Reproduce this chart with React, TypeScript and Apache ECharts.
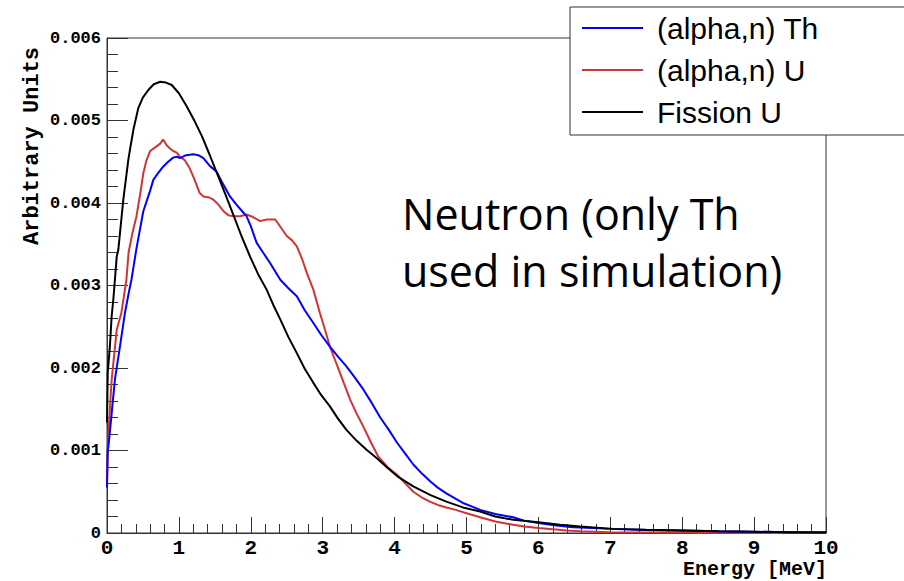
import React, { useEffect, useRef } from "react";
import * as echarts from "echarts";

// Energy [MeV] and value in units of 1e-3 (Arbitrary Units)
const thData: [number, number][] = [
  [0, 0.55], [0.01, 1.0], [0.02, 1.05], [0.065, 1.45], [0.11, 1.86], [0.18, 2.26], [0.25, 2.67],
  [0.3, 2.9], [0.34, 3.07], [0.41, 3.45], [0.505, 3.9], [0.6, 4.15], [0.644, 4.28], [0.7, 4.35],
  [0.78, 4.44], [0.85, 4.5], [0.92, 4.55], [0.97, 4.56], [1.015, 4.545], [1.1, 4.58], [1.2, 4.59],
  [1.27, 4.58], [1.34, 4.545], [1.43, 4.45], [1.525, 4.38], [1.62, 4.22], [1.71, 4.08], [1.8, 3.98],
  [1.88, 3.9], [1.94, 3.84], [2.0, 3.72], [2.08, 3.52], [2.17, 3.4], [2.27, 3.27], [2.41, 3.07],
  [2.52, 2.97], [2.64, 2.87], [2.75, 2.7], [2.87, 2.545], [2.98, 2.4], [3.1, 2.26], [3.21, 2.14],
  [3.33, 2.02], [3.45, 1.88], [3.565, 1.74], [3.68, 1.58], [3.8, 1.4], [3.92, 1.25], [4.03, 1.1],
  [4.15, 0.96], [4.26, 0.83], [4.38, 0.72], [4.49, 0.63], [4.6, 0.55], [4.72, 0.48], [4.84, 0.42],
  [4.96, 0.36], [5.08, 0.32], [5.19, 0.28], [5.4, 0.23], [5.65, 0.19], [5.8, 0.15], [6.0, 0.12],
  [6.25, 0.09], [6.48, 0.07], [6.75, 0.06], [7.0, 0.05], [7.5, 0.035], [8.0, 0.03], [8.5, 0.02],
  [9.0, 0.015], [9.5, 0.01], [10.0, 0.01],
];

const uData: [number, number][] = [
  [0, 0.65], [0.01, 1.0], [0.02, 1.21], [0.065, 1.86], [0.135, 2.46], [0.2, 2.67], [0.27, 3.07],
  [0.3, 3.4], [0.35, 3.62], [0.41, 3.84], [0.46, 4.1], [0.505, 4.36], [0.55, 4.52], [0.6, 4.63],
  [0.68, 4.68], [0.74, 4.72], [0.78, 4.77], [0.83, 4.7], [0.876, 4.66], [0.92, 4.63], [0.97, 4.61],
  [1.015, 4.56], [1.08, 4.52], [1.15, 4.42], [1.2, 4.32], [1.29, 4.12], [1.34, 4.08], [1.41, 4.07],
  [1.48, 4.04], [1.55, 3.98], [1.62, 3.9], [1.69, 3.85], [1.76, 3.84], [1.85, 3.84], [1.94, 3.86],
  [2.03, 3.83], [2.13, 3.78], [2.22, 3.8], [2.34, 3.8], [2.42, 3.7], [2.5, 3.6], [2.57, 3.55],
  [2.64, 3.475], [2.71, 3.33], [2.78, 3.15], [2.87, 2.95], [2.96, 2.67], [3.03, 2.47], [3.1, 2.26],
  [3.17, 2.1], [3.24, 1.94], [3.31, 1.78], [3.38, 1.62], [3.47, 1.45], [3.565, 1.29], [3.67, 1.1],
  [3.77, 0.93], [3.9, 0.8], [4.03, 0.71], [4.15, 0.6], [4.26, 0.5], [4.38, 0.43], [4.49, 0.38],
  [4.6, 0.34], [4.72, 0.31], [4.85, 0.28], [5.0, 0.24], [5.19, 0.19], [5.4, 0.14], [5.65, 0.1],
  [5.8, 0.08], [6.0, 0.06], [6.2, 0.045], [6.39, 0.03], [6.58, 0.02], [7.0, 0.01], [8.0, 0.005],
  [9.0, 0.0], [10.0, 0.0],
];

const fissionData: [number, number][] = [
  [0, 1.34], [0.01, 1.94], [0.04, 2.26], [0.065, 2.63], [0.088, 2.83], [0.11, 3.07], [0.135, 3.35],
  [0.157, 3.43], [0.227, 4.04], [0.296, 4.52], [0.32, 4.65], [0.37, 4.9], [0.435, 5.15], [0.5, 5.28],
  [0.575, 5.37], [0.65, 5.44], [0.74, 5.47], [0.82, 5.46], [0.9, 5.43], [1.0, 5.33], [1.11, 5.17],
  [1.22, 4.99], [1.32, 4.81], [1.42, 4.6], [1.525, 4.37], [1.64, 4.12], [1.76, 3.85], [1.87, 3.6],
  [1.99, 3.35], [2.1, 3.14], [2.22, 2.95], [2.31, 2.77], [2.41, 2.59], [2.52, 2.38], [2.64, 2.18],
  [2.75, 1.99], [2.87, 1.82], [2.98, 1.67], [3.1, 1.535], [3.21, 1.39], [3.33, 1.25], [3.47, 1.12],
  [3.61, 1.01], [3.75, 0.91], [3.9, 0.79], [4.05, 0.68], [4.26, 0.565], [4.5, 0.46], [4.72, 0.38],
  [4.95, 0.31], [5.19, 0.26], [5.4, 0.2], [5.65, 0.16], [6.0, 0.13], [6.3, 0.1], [6.58, 0.08],
  [7.04, 0.05], [7.5, 0.04], [8.0, 0.03], [8.5, 0.02], [9.0, 0.015], [9.5, 0.01], [10.0, 0.005],
];

const seriesNames = ["(alpha,n) Th", "(alpha,n) U", "Fission U"];
const seriesColors = ["#0000ff", "#d03535", "#000000"];
const xTitle = "Energy [MeV]";
const yTitle = "Arbitrary Units";
const annotation = "Neutron (only Th\nused in simulation)";

const MONO = "'Liberation Mono', 'DejaVu Sans Mono', monospace";

export default function App() {
  const ref = useRef<HTMLDivElement>(null);
  useEffect(() => {
    if (!ref.current) return;
    const chart = echarts.init(ref.current, undefined, { renderer: "svg" });
    const datasets = [thData, uData, fissionData];
    chart.setOption({
      animation: false,
      backgroundColor: "#fff",
      grid: {
        left: 107, top: 38, right: 78, bottom: 48,
        containLabel: false, outerBoundsMode: "none",
        show: true, borderColor: "#333", borderWidth: 1,
      },
      legend: {
        orient: "vertical",
        left: 570, top: 7,
        padding: [4, 120, 6, 12],
        itemWidth: 61, itemHeight: 2, icon: "rect", itemGap: 8,
        backgroundColor: "#fff", borderColor: "#333", borderWidth: 1,
        textStyle: {
          fontFamily: "'Liberation Sans', Arial, sans-serif", fontSize: 30,
          color: "#000", lineHeight: 34, padding: [0, 0, 0, 9],
        },
        data: seriesNames,
      },
      xAxis: {
        type: "value", min: 0, max: 10, interval: 1,
        axisLine: { lineStyle: { color: "#333", width: 1 } },
        axisTick: { inside: true, length: 16, lineStyle: { color: "#333" } },
        minorTick: { show: true, splitNumber: 5, length: 9, lineStyle: { color: "#333" } },
        splitLine: { show: false },
        axisLabel: {
          fontFamily: MONO, fontWeight: "bold", fontSize: 21, color: "#000",
          margin: 7, lineHeight: 16,
        },
      },
      yAxis: {
        type: "value", min: 0, max: 6, interval: 1,
        axisLine: { show: true, lineStyle: { color: "#333", width: 1 } },
        axisTick: { show: true, inside: true, length: 21, lineStyle: { color: "#333" } },
        minorTick: { show: true, splitNumber: 5, length: 11, lineStyle: { color: "#333" } },
        splitLine: { show: false },
        axisLabel: {
          fontFamily: MONO, fontWeight: "bold", fontSize: 17, color: "#000", margin: 6,
          formatter: (v: number) => (v === 0 ? "0" : (v / 1000).toFixed(3)),
        },
      },
      graphic: [
        {
          type: "text", x: 32, y: 245, rotation: Math.PI / 2,
          style: {
            text: yTitle, fontFamily: MONO, fontWeight: "bold", fontSize: 22, fill: "#000",
            textAlign: "left", textVerticalAlign: "middle",
          },
        },
        {
          type: "text", x: 827, y: 569,
          style: {
            text: xTitle, fontFamily: MONO, fontWeight: "bold", fontSize: 20, fill: "#000",
            textAlign: "right", textVerticalAlign: "middle",
          },
        },
        {
          type: "text", x: 402, y: 185,
          style: {
            text: annotation, fontFamily: "'Open Sans', sans-serif", fontSize: 43,
            lineHeight: 57, fill: "#000", textAlign: "left", textVerticalAlign: "top",
          },
        },
      ],
      series: seriesNames.map((name, i) => ({
        name, type: "line", data: datasets[i], showSymbol: false, symbol: "none",
        color: seriesColors[i],
        lineStyle: { color: seriesColors[i], width: 2 },
        z: i === 1 ? 2 : 3,
      })),
    });
    return () => chart.dispose();
  }, []);
  return (
    <div ref={ref} style={{ position: "absolute", left: 0, top: 0, width: 904, height: 581 }} />
  );
}
